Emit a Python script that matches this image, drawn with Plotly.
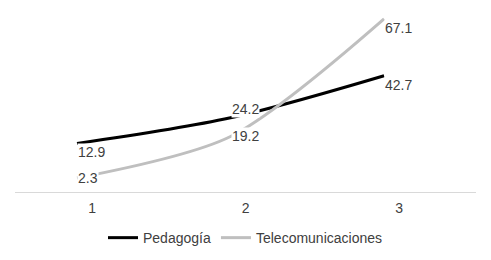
import plotly.graph_objects as go

categories = [1, 2, 3]
tick_labels = ["1", "2", "3"]
pedagogia = [12.9, 24.2, 42.7]
telecom = [2.3, 19.2, 67.1]
ped_label_anchor = ["top", "bottom", "top"]
tel_label_anchor = ["middle", "middle", "top"]

TXT = "#404040"
FONT = "Liberation Sans, Arial, sans-serif"

fig = go.Figure()
fig.add_trace(go.Scatter(x=categories, y=pedagogia, name="Pedagogía", mode="lines",
                         line=dict(color="#000000", width=3, shape="spline", smoothing=0.9),
                         yaxis="y", hoverinfo="skip"))
fig.add_trace(go.Scatter(x=categories, y=telecom, name="Telecomunicaciones", mode="lines",
                         line=dict(color="#bfbfbf", width=3, shape="spline", smoothing=0.8),
                         yaxis="y2", hoverinfo="skip"))

annotations = []
for vals, anchors, yref in ((pedagogia, ped_label_anchor, "y"), (telecom, tel_label_anchor, "y2")):
    for xv, yv, an in zip(categories, vals, anchors):
        annotations.append(dict(x=xv, y=yv, xref="x", yref=yref, text=f"{yv:.1f}", showarrow=False,
                                xanchor="left", yanchor=an, xshift=0,
                                bgcolor="white", borderpad=0,
                                font=dict(family=FONT, size=14, color=TXT)))

fig.update_layout(
    width=491, height=260,
    margin=dict(l=15, r=15, t=10, b=68, autoexpand=False),
    paper_bgcolor="white", plot_bgcolor="white",
    font=dict(family=FONT, size=14, color=TXT),
    annotations=annotations,
    hovermode=False,
    showlegend=True,
    legend=dict(orientation="h", x=0.5, xanchor="center", y=-0.253, yanchor="middle",
                font=dict(family=FONT, size=14, color=TXT), itemwidth=30,
                bgcolor="rgba(0,0,0,0)"),
    xaxis=dict(range=[0.596, 3.599], tickvals=categories, ticktext=tick_labels,
               showgrid=False, zeroline=False, showline=True, linecolor="#d9d9d9",
               linewidth=1, ticks="", ticklabelshift=15, ticklabelstandoff=3,
               tickfont=dict(family=FONT, size=14, color=TXT), fixedrange=True,
               automargin=False),
    yaxis=dict(range=[-8.5, 71.7], showgrid=False, zeroline=False, showline=False,
               showticklabels=False, ticks="", fixedrange=True, automargin=False),
    yaxis2=dict(range=[-3.4, 70.7], overlaying="y", showgrid=False, zeroline=False,
                showline=False, showticklabels=False, ticks="", fixedrange=True,
                automargin=False),
)

fig.write_html("out.html", config={"displayModeBar": False, "staticPlot": True},
               post_script="document.body.style.margin='0';")
